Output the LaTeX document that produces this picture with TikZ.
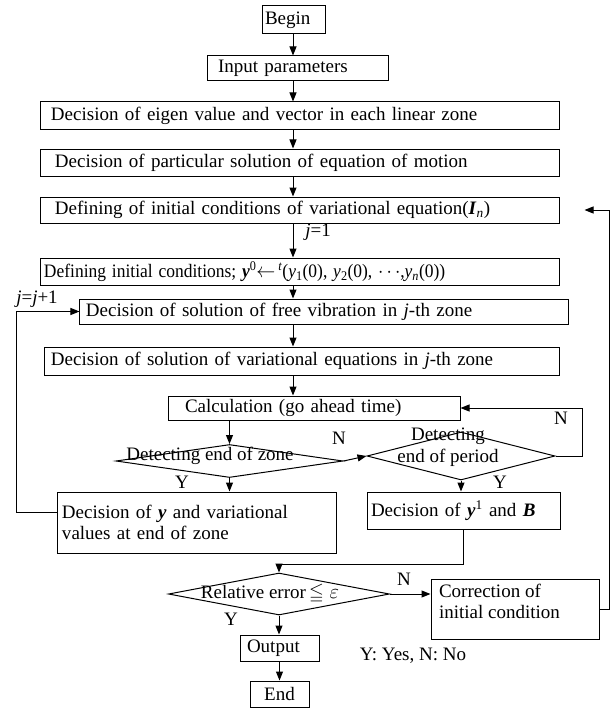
\documentclass[tikz,border=0pt]{standalone}
\usepackage{amssymb}
\usepackage{graphicx}
\usepackage{fontspec}
\setmainfont{Liberation Serif}
\usetikzlibrary{shapes.geometric, arrows.meta}

\begin{document}
\begin{tikzpicture}[x=1bp, y=-1bp, line width=1bp,
        every node/.style={font=\fontsize{19bp}{21.5bp}\selectfont, inner sep=0pt},
        proc/.style={draw, rectangle, align=left},
        decision/.style={draw, diamond},
        flow/.style={-{Triangle[length=9bp, width=7bp]}}]
        \useasboundingbox (0,0) rectangle (611,708);

        % Main column
        \node[proc, minimum width=63bp, minimum height=28bp, text width=57bp, inner xsep=3bp] (begin) at (293.5,20) {Begin};
        \node[proc, minimum width=181bp, minimum height=25bp, text width=159bp, inner xsep=11bp] (input) at (297.5,68.5) {Input parameters};
        \node[proc, minimum width=518bp, minimum height=27bp, text width=498bp, inner xsep=10bp] (eigen) at (300,115.5) {Decision of eigen value and vector in each linear zone};
        \node[proc, minimum width=518bp, minimum height=27bp, text width=490bp, inner xsep=14bp] (partsol) at (300,162.5) {Decision of particular solution of equation of motion};
        \node[proc, minimum width=518bp, minimum height=26bp, text width=490bp, inner xsep=14bp] (defvar) at (300,210) {Defining of initial conditions of variational equation(\textbf{\textit{I}}\textsubscript{\textit{n}})};
        \node[proc, minimum width=518bp, minimum height=27bp, text width=512bp, inner xsep=3bp] (definit) at (300,271.5) {\scalebox{0.92}[1]{Defining initial conditions; \textbf{\textit{y}}\textsuperscript{0}$\leftarrow$\,\textsuperscript{\textit{t}}(\textit{y}\textsubscript{1}(0), \textit{y}\textsubscript{2}(0), $\cdots$,\textit{y}\textsubscript{\textit{n}}(0))}};
        \node[proc, minimum width=488bp, minimum height=25bp, text width=476bp, inner xsep=6bp] (freevib) at (324,311.5) {Decision of solution of free vibration in \textit{j}-th zone};
        \node[proc, minimum width=514bp, minimum height=28bp, text width=502bp, inner xsep=6bp] (vareq) at (302,361) {Decision of solution of variational equations in \textit{j}-th zone};
        \node[proc, minimum width=292bp, minimum height=24bp, text width=258bp, inner xsep=17bp] (calc) at (314,408) {Calculation (go ahead time)};

        % Decisions: end of zone / end of period
        \node[decision, minimum width=227bp, minimum height=33bp] (zone) at (229.5,461) {};
        \node (zonetext) at (210,456) {Detecting end of zone};
        \node[decision, minimum width=188bp, minimum height=48bp] (period) at (461,456) {};
        \node[align=center] (periodtext) at (448,447) {Detecting\\end of period};

        % Results of one zone / one period
        \node[proc, minimum width=278bp, minimum height=61bp, text width=270bp, inner xsep=4bp] (yzone) at (197,522.5) {Decision of \textbf{\textit{y}} and variational\\values at end of zone};
        \node[proc, minimum width=193bp, minimum height=37bp, text width=185bp, inner xsep=4bp] (yperiod) at (463.5,510.5) {Decision of \textbf{\textit{y}}\textsuperscript{1} and \textbf{\textit{B}}};

        % Convergence check
        \node[decision, minimum width=221bp, minimum height=42bp] (rel) at (279,594) {};
        \node (reltext) at (270,594) {Relative error\,$\leqq\varepsilon$};
        \node[draw, inner xsep=8bp, inner ysep=5bp] (corr) at (515,609) {\parbox[c][50bp][t]{152bp}{Correction of\\initial condition}};
        \node[proc, minimum width=79bp, minimum height=26bp, text width=65bp, inner xsep=7bp] (output) at (279.5,648) {Output};
        \node[proc, minimum width=59bp, minimum height=26bp, text width=59bp, align=center] (end) at (279.5,694) {End};

        % Labels
        \node (jone) at (318,232) {\textit{j}=1};
        \node (jinc) at (37,299) {\textit{j}=\textit{j}+1};
        \node (nzone) at (339,438) {N};
        \node (yzonelbl) at (182,482) {Y};
        \node (nperiod) at (561,418) {N};
        \node (yperiodlbl) at (500,482) {Y};
        \node (nrel) at (404,579) {N};
        \node (yrel) at (231,619) {Y};
        \node (legend) at (413,656) {Y: Yes, N: No};

        % Main flow
        \coordinate (axis) at (293,0);
        \draw[flow] (axis |- begin.south) -- (axis |- input.north);
        \draw[flow] (axis |- input.south) -- (axis |- eigen.north);
        \draw[flow] (axis |- eigen.south) -- (axis |- partsol.north);
        \draw[flow] (axis |- partsol.south) -- (axis |- defvar.north);
        \draw[flow] (axis |- defvar.south) -- (axis |- definit.north);
        \draw[flow] (axis |- definit.south) -- (axis |- freevib.north);
        \draw[flow] (axis |- freevib.south) -- (axis |- vareq.north);
        \draw[flow] (axis |- vareq.south) -- (axis |- calc.north);
        \draw[flow] (zone.north |- calc.south) -- (zone.north);
        \draw[flow] (zone.east) -- (period.west);
        \draw[flow] (zone.south) -- (zone.south |- yzone.north);
        \draw[flow] (period.south) -- (period.south |- yperiod.north);
        \draw[flow] (yperiod.south) |- ([yshift=8bp]rel.north) -- (rel.north);
        \draw[flow] (rel.east) -- (rel.east -| corr.west);
        \draw[flow] (rel.south) -- (rel.south |- output.north);
        \draw[flow] (output.south) -- (output.south |- end.north);

        % Loops back
        \coordinate (periodloop) at (582,408);
        \draw[flow] (period.east) -| (periodloop) -- (calc.east);
        \coordinate (zoneloop) at (16,311.5);
        \draw[flow] ([yshift=10bp]yzone.west) -| (zoneloop) -- (freevib.west);
        \coordinate (corrloop) at (609,210);
        \draw[flow] (corr.east) -| (corrloop) -- ([xshift=25bp]defvar.east);
    \end{tikzpicture}
\end{document}
